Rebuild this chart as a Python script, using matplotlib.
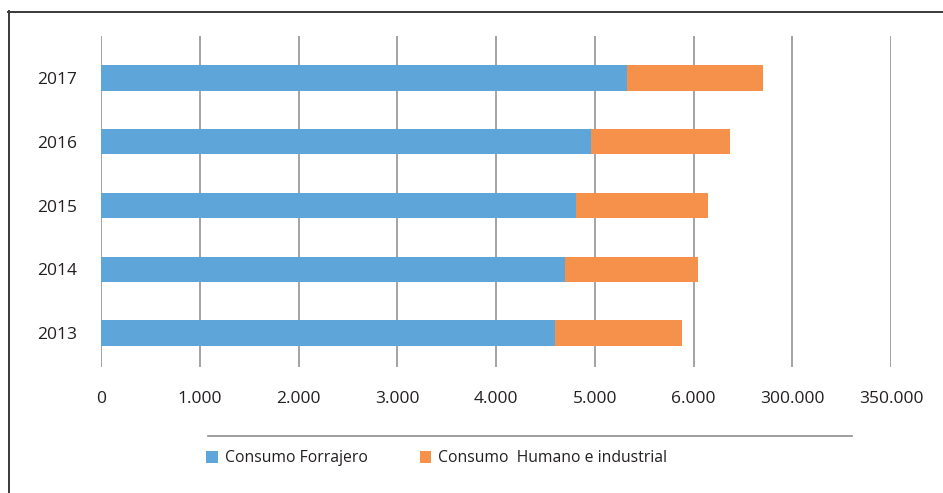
import matplotlib
matplotlib.use("Agg")
import matplotlib.pyplot as plt
from matplotlib.patches import Patch
from matplotlib.lines import Line2D

years = ["2013", "2014", "2015", "2016", "2017"]
forrajero = [4600, 4700, 4810, 4960, 5330]
humano_industrial = [1280, 1350, 1340, 1410, 1370]
tick_values = [0, 1000, 2000, 3000, 4000, 5000, 6000, 7000, 8000]
tick_labels = ["0", "1.000", "2.000", "3.000", "4.000", "5.000", "6.000",
               "300.000", "350.000"]
series_names = ["Consumo Forrajero", "Consumo  Humano e industrial"]

BLUE = "#5ea6d9"
ORANGE = "#f5914a"
GRID = "#a3a3a6"
TEXT = "#231f20"

plt.rcParams["font.family"] = ["Open Sans", "DejaVu Sans"]

W, H = 943, 493
fig = plt.figure(figsize=(W / 100, H / 100), dpi=100)
fig.patch.set_facecolor("white")

ax = fig.add_axes([101 / W, 1 - 367 / H, 790 / W, 331 / H])
ypos = list(range(len(years)))
ax.barh(ypos, forrajero, height=0.4, color=BLUE, zorder=3)
ax.barh(ypos, humano_industrial, left=forrajero, height=0.4, color=ORANGE, zorder=3)

ax.set_xlim(0, 8000)
ax.set_ylim(-0.53, 4.656)
ax.set_xticks(tick_values)
ax.set_xticklabels(tick_labels)
ax.set_yticks(ypos)
ax.set_yticklabels(years)
ax.tick_params(axis="both", length=0, labelsize=12.5, colors=TEXT)
ax.tick_params(axis="x", pad=17)
ax.tick_params(axis="y", pad=17)
for s in ax.spines.values():
    s.set_visible(False)
ax.grid(axis="x", color=GRID, linewidth=1.4, zorder=0)
ax.set_axisbelow(True)
ax.set_facecolor("none")

# outer frame (left and top edges)
fig.add_artist(Line2D([8.5 / W, 8.5 / W], [0, 1 - 11 / H], transform=fig.transFigure,
                      color="#3a3a3a", linewidth=1.4))
fig.add_artist(Line2D([8 / W, 1], [1 - 11.5 / H, 1 - 11.5 / H], transform=fig.transFigure,
                      color="#3a3a3a", linewidth=1.4))

# rule above the legend
fig.add_artist(Line2D([208 / W, 852 / W], [1 - 436 / H, 1 - 436 / H], transform=fig.transFigure,
                      color="#8c8c8c", linewidth=1.2))

handles = [Patch(facecolor=BLUE, edgecolor="none"), Patch(facecolor=ORANGE, edgecolor="none")]
leg = fig.legend(handles, series_names, loc="center left",
                 bbox_to_anchor=(206 / W, 1 - 458.5 / H), ncol=2, frameon=False,
                 fontsize=11.3, handlelength=0.75, handleheight=0.75, handletextpad=0.45,
                 columnspacing=3.3, borderaxespad=0, borderpad=0)
for t in leg.get_texts():
    t.set_color(TEXT)

fig.savefig("out.png", dpi=100, facecolor="white")
